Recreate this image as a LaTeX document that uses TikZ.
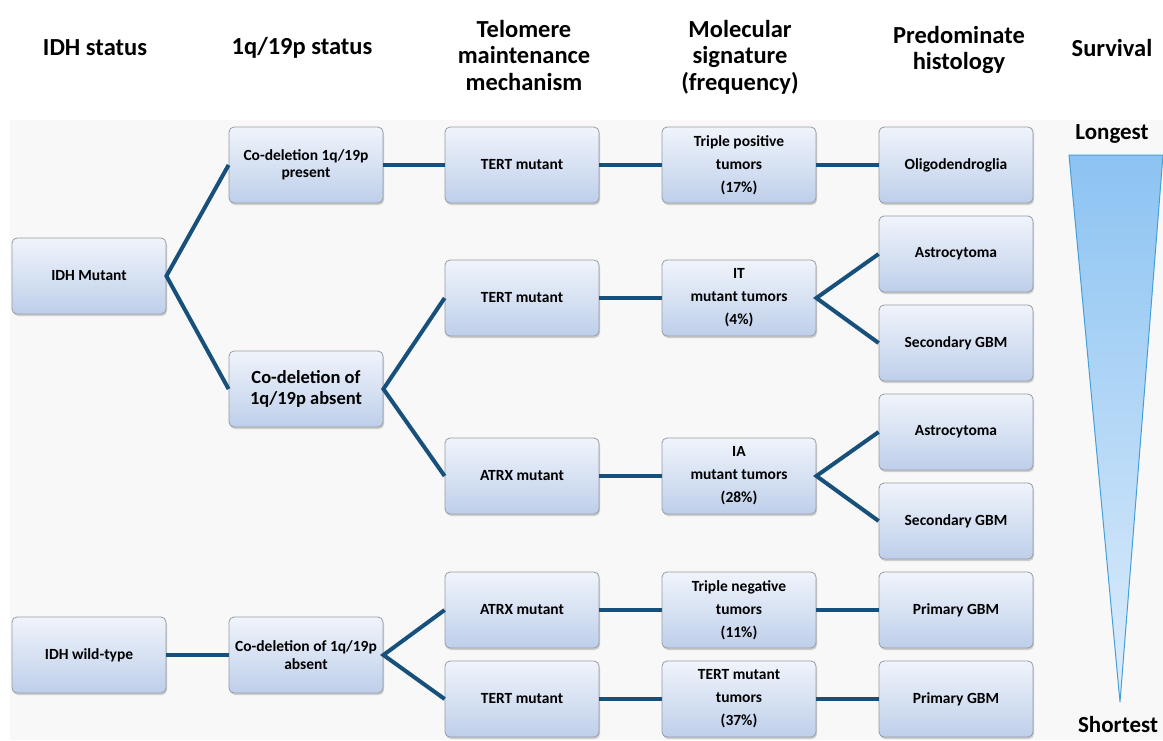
\documentclass[tikz,border=0pt]{standalone}
\usepackage{fontspec}
\setmainfont{Carlito}
\usetikzlibrary{shadows}
\definecolor{linkblue}{RGB}{24,80,124}
\definecolor{boxedge}{RGB}{150,155,165}
\definecolor{boxtop}{RGB}{240,244,251}
\definecolor{boxbottom}{RGB}{190,207,234}
\definecolor{tritop}{RGB}{140,195,242}
\definecolor{tribottom}{RGB}{222,237,251}
\definecolor{triedge}{RGB}{70,160,215}
\definecolor{panel}{RGB}{248,248,248}
\begin{document}
\begin{tikzpicture}[x=1pt,y=-1pt,
    box/.style={draw=boxedge, line width=0.8pt, rounded corners=5pt,
      top color=boxtop, bottom color=boxbottom,
      minimum width=154pt, minimum height=76pt, inner sep=2pt, align=center,
      font=\bfseries\fontsize{15.5}{17.5}\selectfont,
      drop shadow={opacity=0.35, shadow xshift=1pt, shadow yshift=-2pt}},
    sigbox/.style={box, font=\bfseries\fontsize{15.5}{23}\selectfont},
    bigbox/.style={box, font=\bfseries\fontsize{18.5}{20.5}\selectfont},
    head/.style={align=center, font=\bfseries\fontsize{24.5}{26.5}\selectfont},
    ends/.style={font=\bfseries\fontsize{23}{25}\selectfont},
    link/.style={linkblue, line width=4pt}]
  \useasboundingbox (0,0) rectangle (1163,740);
  \fill[panel] (10,120) rectangle (1163,740);

  % column titles
  \node[head] (h1) at (95,48) {IDH status};
  \node[head] (h2) at (302,48) {1q/19p status};
  \node[head] (h3) at (524,55) {Telomere\\maintenance\\mechanism};
  \node[head] (h4) at (740,57) {Molecular\\signature\\(frequency)};
  \node[head] (h5) at (959,50) {Predominate\\histology};
  \node[head] (h6) at (1112,48) {Survival};

  % IDH status
  \node[box] (mut) at (89,276) {IDH Mutant};
  \node[box] (wt) at (89,655) {IDH wild-type};

  % 1q/19p status
  \node[box] (codp) at (306,165) {Co-deletion 1q/19p\\present};
  \node[bigbox] (coda) at (306,389) {Co-deletion of\\1q/19p absent};
  \node[box] (codw) at (306,655) {Co-deletion of 1q/19p\\absent};

  % telomere
  \node[box] (tert1) at (522,165) {TERT mutant};
  \node[box] (tert2) at (522,298) {TERT mutant};
  \node[box] (atrx1) at (522,476) {ATRX mutant};
  \node[box] (atrx2) at (522,610) {ATRX mutant};
  \node[box] (tert3) at (522,699) {TERT mutant};

  % signature
  \node[sigbox] (tp) at (739,165) {Triple positive\\tumors\\(17\%)};
  \node[sigbox] (it) at (739,298) {IT\\mutant tumors\\(4\%)};
  \node[sigbox] (ia) at (739,476) {IA\\mutant tumors\\(28\%)};
  \node[sigbox] (tn) at (739,610) {Triple negative\\tumors\\(11\%)};
  \node[sigbox] (tt) at (739,699) {TERT mutant\\tumors\\(37\%)};

  % histology
  \node[box] (oligo) at (956,165) {Oligodendroglia};
  \node[box] (astro1) at (956,254) {Astrocytoma};
  \node[box] (sgbm1) at (956,343) {Secondary GBM};
  \node[box] (astro2) at (956,432) {Astrocytoma};
  \node[box] (sgbm2) at (956,521) {Secondary GBM};
  \node[box] (pgbm1) at (956,610) {Primary GBM};
  \node[box] (pgbm2) at (956,699) {Primary GBM};

  % links
  \draw[link] (codp.west) -- (mut.east) -- (coda.west);
  \draw[link] (codp) -- (tert1) -- (tp) -- (oligo);
  \draw[link] (tert2.west) -- (coda.east) -- (atrx1.west);
  \draw[link] (tert2) -- (it);
  \draw[link] (atrx1) -- (ia);
  \draw[link] (astro1.west) -- (it.east) -- (sgbm1.west);
  \draw[link] (astro2.west) -- (ia.east) -- (sgbm2.west);
  \draw[link] (wt) -- (codw);
  \draw[link] (atrx2.west) -- (codw.east) -- (tert3.west);
  \draw[link] (atrx2) -- (tn) -- (pgbm1);
  \draw[link] (tert3) -- (tt) -- (pgbm2);

  % survival wedge
  \draw[triedge, line width=1pt, top color=tritop, bottom color=tribottom]
    (1069,155) -- (1163,155) -- (1120,702) -- cycle;
  \node[ends] (long) at (1112,134) {Longest};
  \node[ends] (short) at (1118,725) {Shortest};
\end{tikzpicture}
\end{document}
